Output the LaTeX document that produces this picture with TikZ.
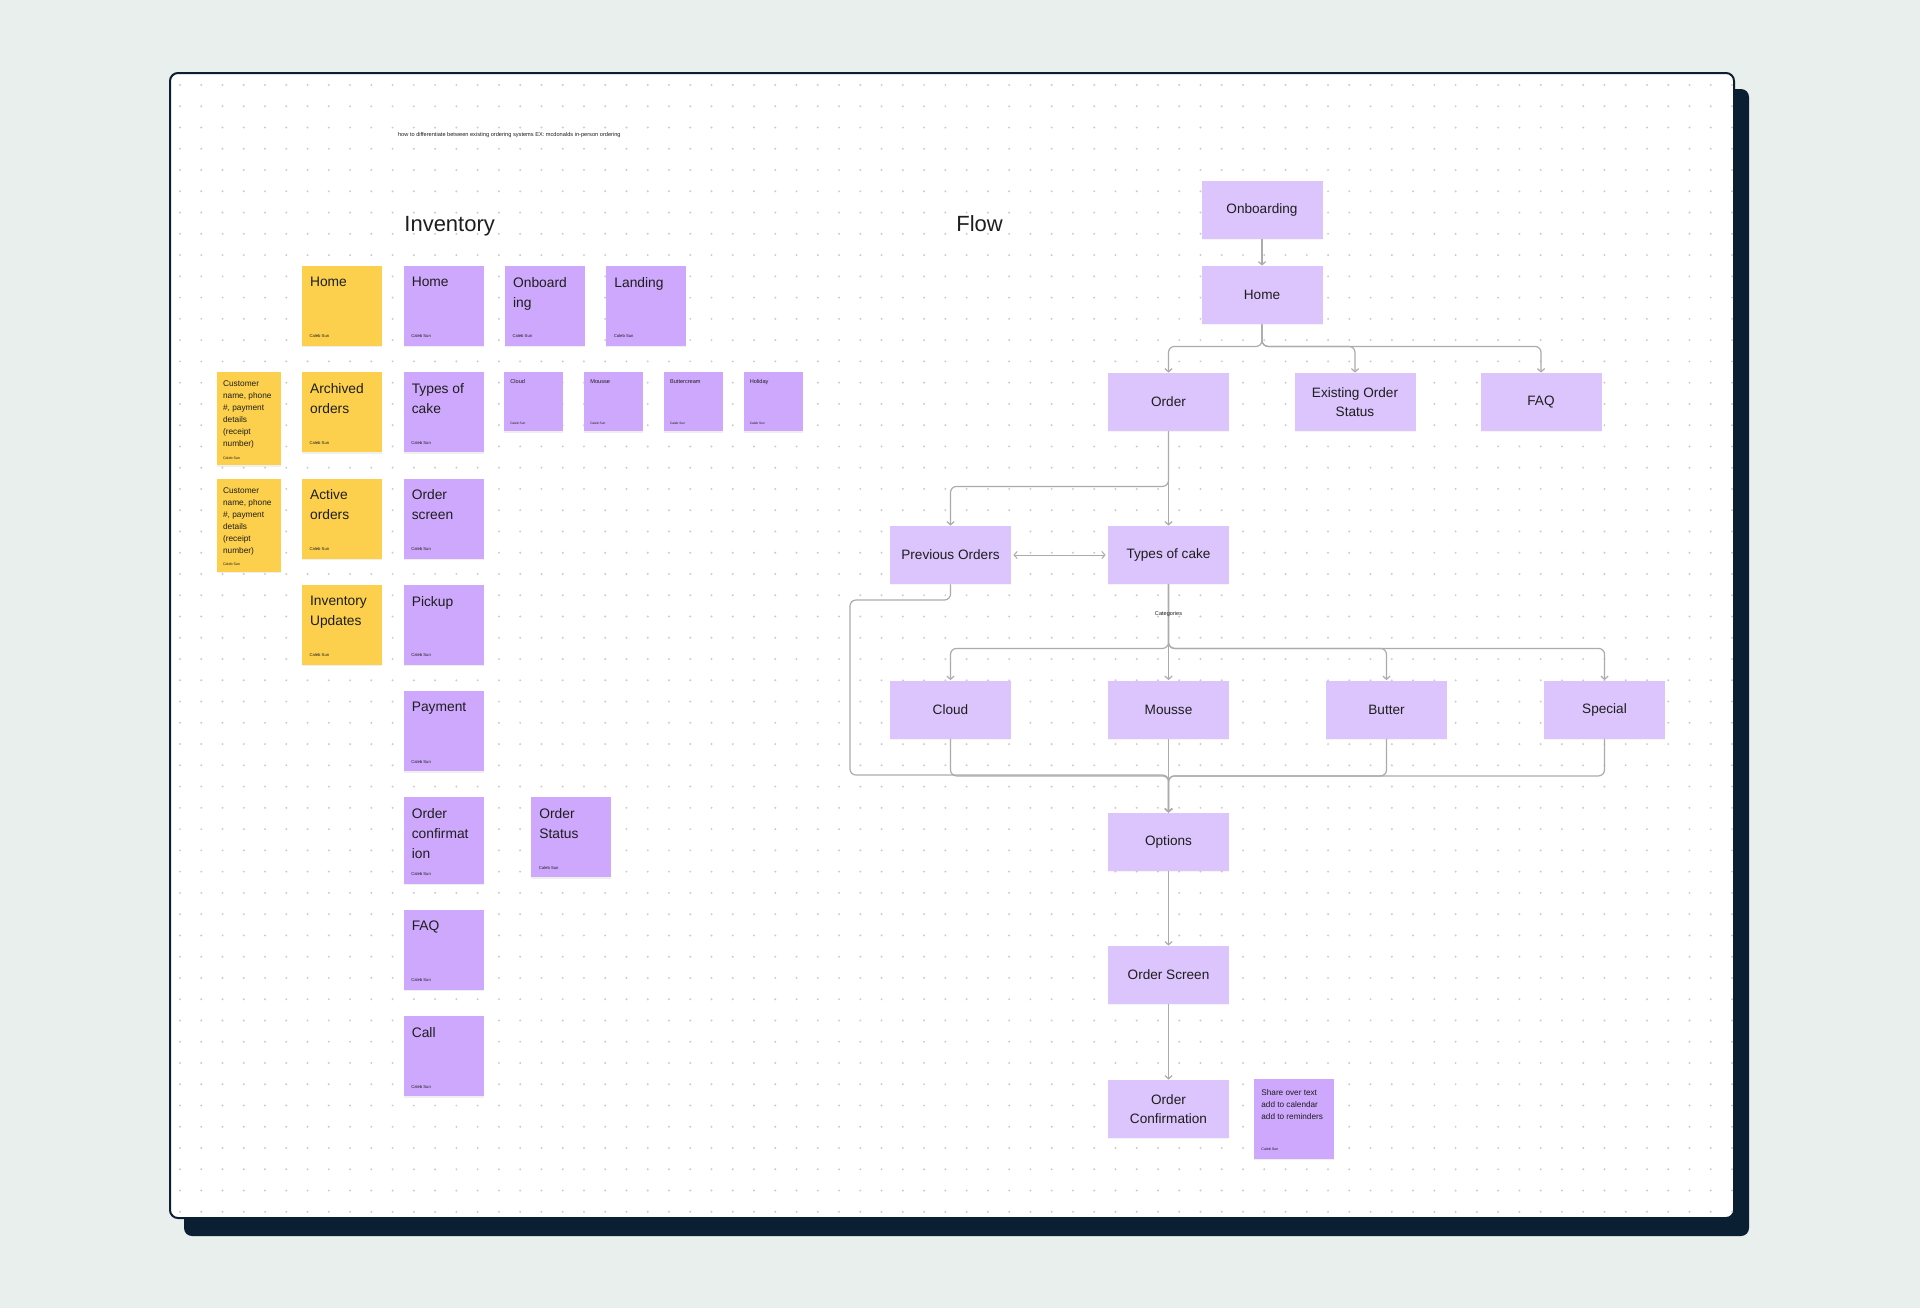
\documentclass[tikz,border=0pt]{standalone}
\usepackage{fontspec}
\setmainfont{Liberation Sans}
\usetikzlibrary{arrows.meta,shadows}

\definecolor{outside}{HTML}{E9EFEC}
\definecolor{navy}{HTML}{0B1F33}
\definecolor{dotc}{HTML}{CCCCCC}
\definecolor{yel}{HTML}{FCD04C}
\definecolor{lav}{HTML}{CDA8FC}
\definecolor{flowc}{HTML}{DCC4FC}
\definecolor{wire}{HTML}{ABABAB}
\definecolor{ink}{HTML}{1E1E1E}

\tikzset{
  sticky/.style={anchor=north west, inner sep=0pt, outer sep=0pt,
    drop shadow={shadow xshift=0pt, shadow yshift=-0.7pt, opacity=0.12}},
  big text/.style={anchor=north west, inner sep=0pt, xshift=3.85pt, yshift=-5.35pt,
    align=left, font=\fontsize{6.9}{10}\selectfont},
  big foot/.style={anchor=west, inner sep=0pt, xshift=3.6pt, yshift=4.85pt,
    font=\fontsize{2.1}{2.5}\selectfont},
  cust text/.style={anchor=north west, inner sep=0pt, xshift=2.7pt, yshift=-4.2pt,
    align=left, font=\fontsize{4.15}{6}\selectfont},
  cust foot/.style={anchor=west, inner sep=0pt, xshift=2.7pt, yshift=3.7pt,
    font=\fontsize{1.8}{2.2}\selectfont},
  share text/.style={anchor=north west, inner sep=0pt, xshift=3.5pt, yshift=-5.1pt,
    align=left, font=\fontsize{4.1}{6}\selectfont},
  share foot/.style={anchor=west, inner sep=0pt, xshift=3.5pt, yshift=5pt,
    font=\fontsize{1.8}{2.2}\selectfont},
  tiny text/.style={anchor=north west, inner sep=0pt, xshift=2.85pt, yshift=-3.6pt,
    align=left, font=\fontsize{2.8}{3.4}\selectfont},
  tiny foot/.style={anchor=west, inner sep=0pt, xshift=2.85pt, yshift=3.65pt,
    font=\fontsize{1.6}{2}\selectfont},
  flow/.style={fill=flowc, minimum width=60.5pt, minimum height=29pt, inner sep=0pt,
    align=center, font=\fontsize{6.8}{9.8}\selectfont,
    drop shadow={shadow xshift=0pt, shadow yshift=-0.6pt, opacity=0.08}},
  title/.style={anchor=base west, inner sep=0pt, font=\fontsize{11}{13}\selectfont},
  link/.style={draw=wire, line width=0.6pt, rounded corners=3pt,
    -{Straight Barb[length=1.6pt,width=3.6pt]}},
  both link/.style={draw=wire, line width=0.5pt,
    {Straight Barb[length=1.6pt,width=3.6pt]}-{Straight Barb[length=1.6pt,width=3.6pt]}},
}

% sticky note: name, top-left corner, width, height, colour, kind, text
\newcommand\note[7]{%
  \node[sticky, fill=#5, minimum width=#3, minimum height=#4] (#1) at (#2) {};
  \node[#6 text] (#1-text) at (#1.north west) {#7};
  \node[#6 foot] (#1-foot) at (#1.south west) {Caleb Sun};
}

\begin{document}
\begin{tikzpicture}[x=0.5pt, y=-0.5pt, every node/.append style={text=ink}]
\useasboundingbox (0,0) rectangle (1920,1308);
\fill[outside] (0,0) rectangle (1920,1308);

% board with its offset backing
\fill[navy, rounded corners=4pt] (184,89) rectangle (1749,1236);
\filldraw[fill=white, draw=navy, line width=1pt, rounded corners=4pt] (170,73) rectangle (1734,1218);
\foreach \i in {0,...,73}
  \foreach \j in {0,...,53}
    \fill[dotc] (180+21.26*\i, 85+21.26*\j) circle (0.55pt);

% header text
\node[anchor=base west, inner sep=0pt, font=\fontsize{2.82}{3}\selectfont] (memo) at (397.7,136)
  {how to differentiate between existing ordering systems EX: mcdonalds in-person ordering};
\node[title] (invtitle) at (404,231) {Inventory};
\node[title] (flowtitle) at (956,231) {Flow};

% inventory: admin side
\note{yhome}{302,266}{40pt}{40pt}{yel}{big}{Home}
\note{yarch}{302,372.3}{40pt}{40pt}{yel}{big}{Archived\\orders}
\note{yact}{302,478.7}{40pt}{40pt}{yel}{big}{Active\\orders}
\note{yinv}{302,585}{40pt}{40pt}{yel}{big}{Inventory\\Updates}
\note{cust1}{217.3,372.3}{32pt}{46.5pt}{yel}{cust}{Customer\\name, phone\\\#, payment\\details\\(receipt\\number)}
\note{cust2}{217.3,478.7}{32pt}{46.5pt}{yel}{cust}{Customer\\name, phone\\\#, payment\\details\\(receipt\\number)}

% inventory: customer side
\note{phome}{403.7,266}{40pt}{40pt}{lav}{big}{Home}
\note{ponb}{505,266}{40pt}{40pt}{lav}{big}{Onboard\\ing}
\note{pland}{606.3,266}{40pt}{40pt}{lav}{big}{Landing}
\note{ptypes}{403.7,372.3}{40pt}{40pt}{lav}{big}{Types of\\cake}
\note{pord}{403.7,478.7}{40pt}{40pt}{lav}{big}{Order\\screen}
\note{ppick}{403.7,585}{40pt}{40pt}{lav}{big}{Pickup}
\note{ppay}{403.7,691.3}{40pt}{40pt}{lav}{big}{Payment}
\note{pconf}{403.7,797.3}{40pt}{43.2pt}{lav}{big}{Order\\confirmat\\ion}
\note{pstat}{531.3,797.3}{40pt}{40pt}{lav}{big}{Order\\Status}
\note{pfaq}{403.7,910}{40pt}{40pt}{lav}{big}{FAQ}
\note{pcall}{403.7,1016.3}{40pt}{40pt}{lav}{big}{Call}

\note{kcloud}{504.3,372.3}{29.4pt}{29.4pt}{lav}{tiny}{Cloud}
\note{kmousse}{584.3,372.3}{29.4pt}{29.4pt}{lav}{tiny}{Mousse}
\note{kbutter}{664,372.3}{29.4pt}{29.4pt}{lav}{tiny}{Buttercream}
\note{kholi}{743.7,372.3}{29.4pt}{29.4pt}{lav}{tiny}{Holiday}

% flow
\node[flow] (onb) at (1262,210) {Onboarding};
\node[flow] (home) at (1262,295) {Home};
\node[flow] (order) at (1168.5,402) {Order};
\node[flow] (exist) at (1355,402) {Existing Order\\Status};
\node[flow] (faq) at (1541,402) {FAQ};
\node[flow] (prev) at (950.5,555) {Previous Orders};
\node[flow] (types) at (1168.5,555) {Types of cake};
\node[flow] (cloud) at (950.5,709.5) {Cloud};
\node[flow] (mousse) at (1168.5,709.5) {Mousse};
\node[flow] (butter) at (1386.5,709.5) {Butter};
\node[flow] (special) at (1604.5,709.5) {Special};
\node[flow] (opts) at (1168.5,842) {Options};
\node[flow] (oscr) at (1168.5,975) {Order Screen};
\node[flow] (oconf) at (1168.5,1109) {Order\\Confirmation};
\note{share}{1254,1079}{40pt}{40pt}{lav}{share}{Share over text\\add to calendar\\add to reminders}

\coordinate (loopa) at (850,600);
\coordinate (loopb) at (850,775);

\draw[link] (onb.south) -- (home.north);
\draw[link] (home.south) -- ++(0,22) -| (order.north);
\draw[link] (home.south) -- ++(0,22) -| (exist.north);
\draw[link] (home.south) -- ++(0,22) -| (faq.north);
\draw[link] (order.south) -- (types.north);
\draw[link] (order.south) -- ++(0,55) -| (prev.north);
\draw[both link] ([xshift=1pt]prev.east) -- ([xshift=-1pt]types.west);
\draw[link] (types.south) -- ++(0,64) -| (cloud.north);
\draw[link] (types.south) -- (mousse.north);
\draw[link] (types.south) -- ++(0,64) -| (butter.north);
\draw[link] (types.south) -- ++(0,64) -| (special.north);
\node[inner sep=0pt, font=\fontsize{2.8}{3}\selectfont] (cat) at (1168.5,614) {Categories};
\draw[link] (cloud.south) -- ++(0,37) -| (opts.north);
\draw[link] (mousse.south) -- (opts.north);
\draw[link] (butter.south) -- ++(0,37) -| (opts.north);
\draw[link] (special.south) -- ++(0,37) -| (opts.north);
\draw[link] (prev.south) |- (loopa) -- (loopb) -| (opts.north);
\draw[link] (opts.south) -- (oscr.north);
\draw[link] (oscr.south) -- (oconf.north);
\end{tikzpicture}
\end{document}
